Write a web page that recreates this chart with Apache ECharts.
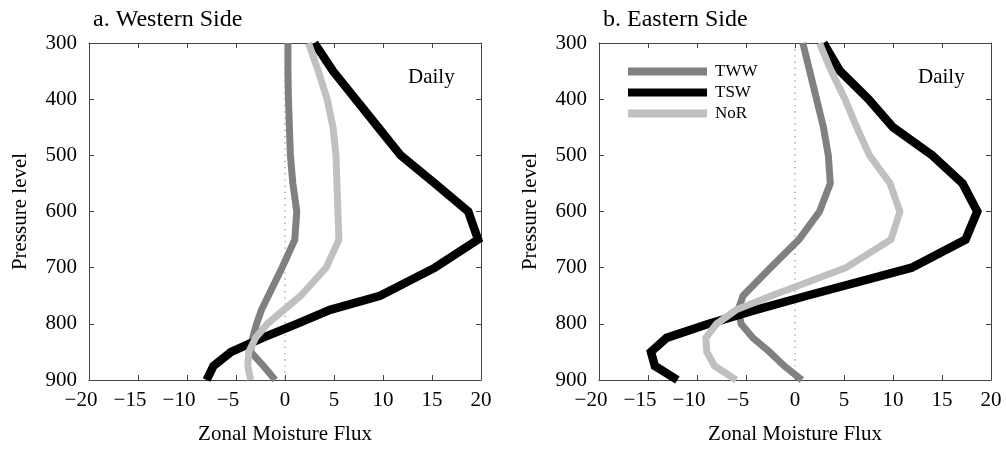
<!DOCTYPE html>
<html>
<head>
<meta charset="utf-8">
<script src="https://cdn.jsdelivr.net/npm/echarts@6/dist/echarts.min.js"></script>
<style>
  html, body { margin: 0; padding: 0; background: #fff; }
  #chart { width: 1006px; height: 450px; }
</style>
</head>
<body>
<div id="chart"></div>
<script>
// Pressure levels (hPa)
const levels = [300, 350, 400, 450, 500, 550, 600, 650, 700, 750, 775, 800, 825, 850, 875, 900];

// Western side zonal moisture flux profiles
const westTWW = [0.3, 0.3, 0.35, 0.45, 0.55, 0.8, 1.2, 1.0, -0.3, -1.7, -2.4, -2.9, -3.3, -3.5, -2.2, -1.0];
const westTSW = [3.0, 4.9, 7.2, 9.5, 11.8, 15.3, 18.7, 19.7, 15.3, 9.7, 4.6, 1.2, -2.3, -5.5, -7.3, -8.0];
const westNoR = [2.4, 3.4, 4.3, 4.9, 5.2, 5.3, 5.4, 5.5, 4.2, 1.6, -0.1, -1.8, -3.0, -3.7, -3.8, -3.5];

// Eastern side zonal moisture flux profiles
const eastTWW = [0.8, 1.5, 2.2, 2.9, 3.4, 3.6, 2.5, 0.4, -2.5, -5.3, -5.8, -5.5, -4.3, -2.6, -1.1, 0.7];
const eastTSW = [2.9, 4.6, 7.5, 10.0, 14.0, 17.1, 18.6, 17.4, 11.9, 1.2, -4.0, -8.8, -13.1, -14.7, -14.3, -12.0];
const eastNoR = [2.5, 3.7, 5.1, 6.3, 7.6, 9.7, 10.7, 9.8, 5.2, -2.4, -6.0, -8.0, -9.1, -9.0, -8.2, -6.0];

const seriesNames = ['TWW', 'TSW', 'NoR'];
const panelTitles = ['a. Western Side', 'b. Eastern Side'];
const panelNote = 'Daily';
const xName = 'Zonal Moisture Flux';
const yName = 'Pressure level';

const FONT = 'Liberation Serif';
const colors = { TWW: '#808080', TSW: '#000000', NoR: '#c0c0c0' };
const widths = { TWW: 7, TSW: 8.5, NoR: 7 };

const grids = [
  { left: 89, top: 43, width: 392, height: 337 },
  { left: 599, top: 43, width: 392, height: 337 }
];

// negative tick labels use a true minus sign and sit slightly left of the tick
const minusFmt = v => (v < 0 ? '{neg|\u2212' + Math.abs(v) + '}' : String(v));
const labelText = { color: '#000', fontFamily: FONT, fontSize: 21 };
const frameLine = { show: true, onZero: false, lineStyle: { color: '#444', width: 1 } };
const innerTick = { show: true, inside: true, length: 5, lineStyle: { color: '#444' } };

const xAxes = [];
const yAxes = [];
grids.forEach((g, i) => {
  xAxes.push({
    type: 'value', gridIndex: i, position: 'bottom', min: -20, max: 20, interval: 5,
    axisLine: frameLine, axisTick: innerTick, splitLine: { show: false },
    axisLabel: Object.assign({ formatter: minusFmt, margin: 10,
      rich: { neg: Object.assign({ padding: [0, 16, 0, 0] }, labelText) } }, labelText),
    name: xName, nameLocation: 'middle', nameGap: 44,
    nameTextStyle: labelText
  });
  xAxes.push({
    type: 'value', gridIndex: i, position: 'top', min: -20, max: 20, interval: 5,
    axisLine: frameLine, axisTick: innerTick, splitLine: { show: false },
    axisLabel: { show: false }
  });
  yAxes.push({
    type: 'value', gridIndex: i, position: 'left', inverse: true, min: 300, max: 900, interval: 100,
    axisLine: frameLine, axisTick: innerTick, splitLine: { show: false },
    axisLabel: Object.assign({ margin: 12 }, labelText),
    name: yName, nameLocation: 'middle', nameGap: 58,
    nameTextStyle: labelText
  });
  yAxes.push({
    type: 'value', gridIndex: i, position: 'right', inverse: true, min: 300, max: 900, interval: 100,
    axisLine: frameLine, axisTick: innerTick, splitLine: { show: false },
    axisLabel: { show: false }
  });
});

const pairs = vals => vals.map((v, k) => [v, levels[k]]);
const panels = [
  { TWW: westTWW, TSW: westTSW, NoR: westNoR },
  { TWW: eastTWW, TSW: eastTSW, NoR: eastNoR }
];

const series = [];
panels.forEach((p, i) => {
  // dotted zero reference line
  series.push({
    type: 'line', xAxisIndex: 2 * i, yAxisIndex: 2 * i, silent: true,
    data: [[0, levels[0]], [0, levels[levels.length - 1]]],
    showSymbol: false, symbol: 'none',
    lineStyle: { color: '#888', width: 1.2, type: [1.2, 5] }, z: 1
  });
  seriesNames.forEach(n => {
    series.push({
      name: n, type: 'line', xAxisIndex: 2 * i, yAxisIndex: 2 * i,
      data: pairs(p[n]), showSymbol: false, symbol: 'none',
      itemStyle: { color: colors[n] },
      lineStyle: { color: colors[n], width: widths[n], join: 'miter' },
      z: 2
    });
  });
});

const titles = [];
panelTitles.forEach((t, i) => {
  titles.push({
    text: t, left: grids[i].left - 1, top: 3,
    textStyle: { fontFamily: FONT, fontSize: 24, fontWeight: 'normal', color: '#000' }
  });
  titles.push({
    text: panelNote, left: grids[i].left + 314, top: 62,
    textStyle: { fontFamily: FONT, fontSize: 21, fontWeight: 'normal', color: '#000' }
  });
});

const chart = echarts.init(document.getElementById('chart'), null, { renderer: 'canvas' });
chart.setOption({
  animation: false,
  backgroundColor: '#fff',
  title: titles,
  grid: grids,
  xAxis: xAxes,
  yAxis: yAxes,
  legend: {
    data: seriesNames.map(n => ({ name: n, icon: 'rect' })),
    orient: 'vertical', left: 628, top: 63, padding: 0,
    itemWidth: 79, itemHeight: 8, itemGap: 4,
    selectedMode: false,
    textStyle: { fontFamily: FONT, fontSize: 17, color: '#000', padding: [0, 0, 0, 3] }
  },
  series: series
});
</script>
</body>
</html>
